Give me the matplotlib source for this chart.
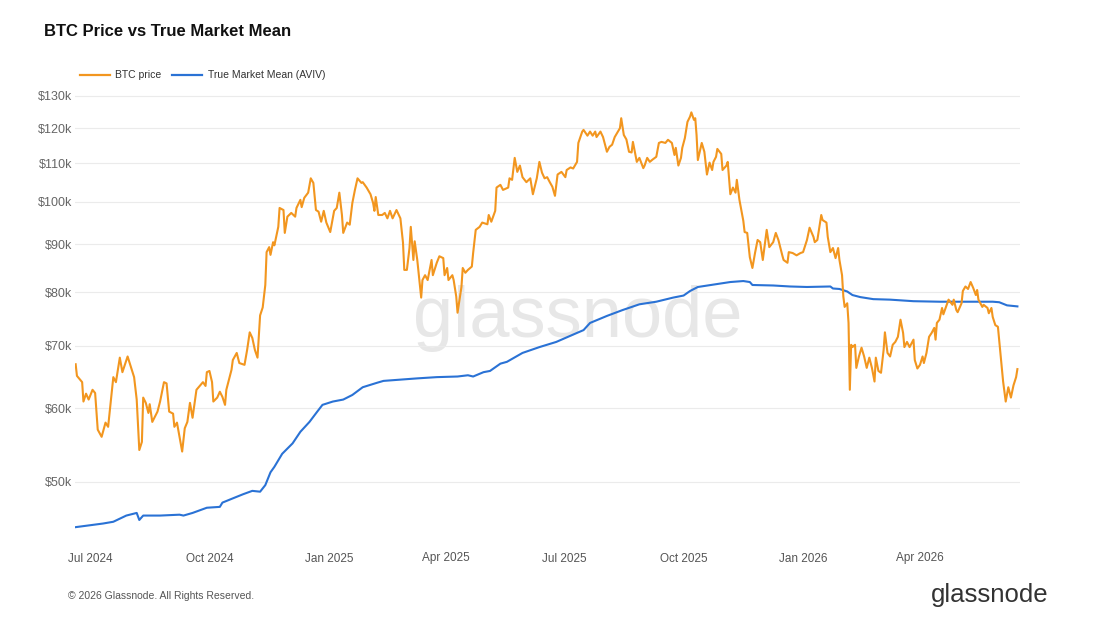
import matplotlib
matplotlib.use('Agg')
import matplotlib.pyplot as plt
from matplotlib.lines import Line2D
from matplotlib.ticker import FixedLocator, FuncFormatter, NullLocator
from matplotlib import font_manager
import pandas as pd

avail = {f.name for f in font_manager.fontManager.ttflist}
base_font = 'Liberation Sans' if 'Liberation Sans' in avail else 'DejaVu Sans'
plt.rcParams['font.family'] = [base_font, 'DejaVu Sans']

# ---------------- data ----------------
btc_dates = [
    '2024-06-20', '2024-06-21', '2024-06-25', '2024-06-26', '2024-06-28', '2024-06-30',
    '2024-07-03', '2024-07-05', '2024-07-07', '2024-07-10', '2024-07-13', '2024-07-15',
    '2024-07-19', '2024-07-21', '2024-07-24', '2024-07-26', '2024-07-30', '2024-08-04',
    '2024-08-06', '2024-08-08', '2024-08-10', '2024-08-11', '2024-08-13', '2024-08-15',
    '2024-08-16', '2024-08-18', '2024-08-22', '2024-08-24', '2024-08-27', '2024-08-29',
    '2024-08-31', '2024-09-03', '2024-09-04', '2024-09-06', '2024-09-10', '2024-09-12',
    '2024-09-14', '2024-09-16', '2024-09-18', '2024-09-21', '2024-09-26', '2024-09-28',
    '2024-09-29', '2024-10-01', '2024-10-03', '2024-10-04', '2024-10-07', '2024-10-09',
    '2024-10-11', '2024-10-13', '2024-10-14', '2024-10-18', '2024-10-19', '2024-10-22',
    '2024-10-24', '2024-10-28', '2024-10-30', '2024-11-01', '2024-11-03', '2024-11-05',
    '2024-11-07', '2024-11-09', '2024-11-11', '2024-11-13', '2024-11-14', '2024-11-16',
    '2024-11-17', '2024-11-19', '2024-11-20', '2024-11-23', '2024-11-24', '2024-11-27',
    '2024-11-28', '2024-11-30', '2024-12-03', '2024-12-06', '2024-12-07', '2024-12-10',
    '2024-12-11', '2024-12-13', '2024-12-16', '2024-12-18', '2024-12-20', '2024-12-22',
    '2024-12-24', '2024-12-26', '2024-12-28', '2024-12-30', '2025-01-02', '2025-01-05',
    '2025-01-07', '2025-01-09', '2025-01-11', '2025-01-12', '2025-01-15', '2025-01-17',
    '2025-01-19', '2025-01-21', '2025-01-23', '2025-01-26', '2025-01-27', '2025-01-30',
    '2025-02-02', '2025-02-04', '2025-02-05', '2025-02-06', '2025-02-08', '2025-02-11',
    '2025-02-13', '2025-02-15', '2025-02-17', '2025-02-19', '2025-02-22', '2025-02-25',
    '2025-02-27', '2025-02-28', '2025-03-02', '2025-03-04', '2025-03-05', '2025-03-07',
    '2025-03-08', '2025-03-10', '2025-03-11', '2025-03-13', '2025-03-14', '2025-03-16',
    '2025-03-18', '2025-03-21', '2025-03-22', '2025-03-25', '2025-03-27', '2025-03-30',
    '2025-03-31', '2025-04-02', '2025-04-03', '2025-04-06', '2025-04-07', '2025-04-09',
    '2025-04-10', '2025-04-13', '2025-04-14', '2025-04-16', '2025-04-18', '2025-04-21',
    '2025-04-22', '2025-04-24', '2025-04-27', '2025-04-29', '2025-05-03', '2025-05-04',
    '2025-05-06', '2025-05-09', '2025-05-10', '2025-05-13', '2025-05-15', '2025-05-19',
    '2025-05-20', '2025-05-22', '2025-05-24', '2025-05-26', '2025-05-28', '2025-05-30',
    '2025-06-02', '2025-06-05', '2025-06-07', '2025-06-10', '2025-06-12', '2025-06-14',
    '2025-06-16', '2025-06-18', '2025-06-20', '2025-06-22', '2025-06-24', '2025-06-26',
    '2025-06-29', '2025-07-02', '2025-07-03', '2025-07-06', '2025-07-08', '2025-07-11',
    '2025-07-12', '2025-07-15', '2025-07-16', '2025-07-19', '2025-07-21', '2025-07-23',
    '2025-07-25', '2025-07-26', '2025-07-29', '2025-07-31', '2025-08-03', '2025-08-05',
    '2025-08-07', '2025-08-09', '2025-08-11', '2025-08-13', '2025-08-14', '2025-08-16',
    '2025-08-18', '2025-08-20', '2025-08-22', '2025-08-23', '2025-08-26', '2025-08-28',
    '2025-08-31', '2025-09-01', '2025-09-03', '2025-09-05', '2025-09-07', '2025-09-10',
    '2025-09-12', '2025-09-14', '2025-09-17', '2025-09-19', '2025-09-22', '2025-09-24',
    '2025-09-25', '2025-09-27', '2025-09-29', '2025-09-30', '2025-10-02', '2025-10-04',
    '2025-10-06', '2025-10-07', '2025-10-09', '2025-10-10', '2025-10-11', '2025-10-12',
    '2025-10-15', '2025-10-17', '2025-10-19', '2025-10-21', '2025-10-23', '2025-10-24',
    '2025-10-26', '2025-10-27', '2025-10-30', '2025-10-31', '2025-11-03', '2025-11-04',
    '2025-11-06', '2025-11-08', '2025-11-10', '2025-11-11', '2025-11-13', '2025-11-16',
    '2025-11-17', '2025-11-19', '2025-11-21', '2025-11-23', '2025-11-25', '2025-11-27',
    '2025-11-29', '2025-12-01', '2025-12-04', '2025-12-06', '2025-12-09', '2025-12-11',
    '2025-12-13', '2025-12-16', '2025-12-17', '2025-12-20', '2025-12-21', '2025-12-24',
    '2025-12-27', '2025-12-30', '2026-01-01', '2026-01-04', '2026-01-06', '2026-01-09',
    '2026-01-10', '2026-01-12', '2026-01-15', '2026-01-16', '2026-01-19', '2026-01-20',
    '2026-01-22', '2026-01-24', '2026-01-26', '2026-01-28', '2026-01-29', '2026-01-31',
    '2026-02-01', '2026-02-02', '2026-02-04', '2026-02-05', '2026-02-06', '2026-02-07',
    '2026-02-08', '2026-02-10', '2026-02-11', '2026-02-13', '2026-02-15', '2026-02-17',
    '2026-02-19', '2026-02-21', '2026-02-23', '2026-02-25', '2026-02-26', '2026-02-28',
    '2026-03-02', '2026-03-04', '2026-03-05', '2026-03-07', '2026-03-09', '2026-03-11',
    '2026-03-13', '2026-03-15', '2026-03-17', '2026-03-19', '2026-03-20', '2026-03-22',
    '2026-03-24', '2026-03-27', '2026-03-28', '2026-03-30', '2026-04-01', '2026-04-03',
    '2026-04-04', '2026-04-06', '2026-04-08', '2026-04-10', '2026-04-12', '2026-04-13',
    '2026-04-14', '2026-04-16', '2026-04-18', '2026-04-19', '2026-04-22', '2026-04-23',
    '2026-04-26', '2026-04-27', '2026-04-29', '2026-04-30', '2026-05-03', '2026-05-04',
    '2026-05-06', '2026-05-08', '2026-05-10', '2026-05-12', '2026-05-14', '2026-05-15',
    '2026-05-16', '2026-05-19', '2026-05-20', '2026-05-23', '2026-05-24', '2026-05-26',
    '2026-05-27', '2026-05-29', '2026-05-31', '2026-06-01', '2026-06-03', '2026-06-04',
    '2026-06-06', '2026-06-08', '2026-06-10', '2026-06-12', '2026-06-14', '2026-06-15',
]
btc_price_k = [
    66.9, 65.0, 64.0, 61.0, 62.2, 61.3,
    62.8, 62.3, 56.9, 55.9, 57.9, 57.3,
    64.8, 64.0, 68.0, 65.6, 68.2, 64.8,
    61.3, 54.1, 55.2, 61.6, 60.8, 59.3,
    60.6, 58.0, 59.5, 61.0, 64.0, 63.8,
    59.5, 59.2, 57.3, 57.9, 53.9, 57.1,
    58.0, 60.8, 58.6, 62.8, 64.0, 63.4,
    65.6, 65.8, 64.0, 61.0, 61.6, 62.5,
    61.7, 60.5, 62.8, 66.0, 67.6, 68.8,
    67.1, 66.8, 69.3, 72.4, 71.4, 69.3,
    68.0, 75.5, 77.0, 81.4, 88.3, 89.4,
    87.7, 90.5, 89.8, 94.0, 98.5, 98.0,
    92.6, 96.4, 97.3, 96.4, 98.5, 100.5,
    98.7, 101.0, 102.3, 106.0, 104.8, 98.0,
    97.6, 95.2, 97.8, 95.0, 92.8, 97.8,
    98.5, 102.3, 96.8, 92.6, 95.0, 94.5,
    99.7, 103.0, 106.0, 104.8, 105.0, 103.6,
    101.9, 99.7, 97.8, 101.2, 96.8, 96.8,
    97.3, 96.0, 97.8, 96.0, 98.0, 96.0,
    90.4, 84.5, 84.5, 89.2, 94.0, 86.6,
    90.7, 86.6, 83.9, 78.9, 82.4, 83.4,
    82.4, 86.6, 83.4, 86.0, 87.4, 87.0,
    83.4, 84.9, 82.4, 83.4, 82.4, 79.1,
    76.0, 81.0, 84.9, 83.9, 84.5, 85.2,
    88.1, 93.3, 94.0, 95.0, 94.6, 96.8,
    95.2, 97.8, 103.6, 104.3, 103.0, 103.6,
    106.0, 105.6, 111.5, 107.7, 109.4, 106.3,
    105.0, 106.0, 101.9, 106.0, 110.4, 107.5,
    106.0, 106.3, 105.0, 103.8, 101.5, 107.0,
    107.7, 106.3, 108.2, 108.9, 108.6, 110.4,
    115.7, 119.0, 119.5, 117.8, 119.0, 117.8,
    119.0, 117.4, 119.0, 117.4, 113.2, 114.6,
    115.2, 117.4, 118.7, 120.0, 123.0, 118.0,
    116.7, 113.2, 113.0, 116.0, 110.4, 111.5,
    108.7, 109.4, 111.5, 110.4, 111.0, 111.8,
    115.7, 116.0, 115.7, 116.6, 115.7, 112.3,
    114.3, 109.4, 111.5, 114.3, 117.1, 121.9,
    123.5, 124.8, 122.5, 123.0, 118.0, 110.9,
    115.7, 113.2, 107.0, 110.2, 108.2, 110.4,
    111.8, 114.0, 112.6, 108.2, 109.4, 110.4,
    101.9, 103.6, 102.3, 105.6, 100.5, 95.4,
    92.8, 92.6, 87.2, 84.9, 88.1, 91.0,
    90.5, 86.6, 93.3, 89.4, 90.5, 92.6,
    91.0, 87.6, 86.6, 86.0, 88.3, 88.1,
    87.6, 88.1, 88.3, 91.0, 93.8, 91.7,
    90.5, 91.0, 96.8, 95.6, 95.0, 91.7,
    88.3, 89.2, 87.0, 89.2, 86.6, 83.4,
    79.1, 77.1, 77.8, 74.1, 62.8, 70.2,
    69.8, 70.2, 66.3, 68.2, 69.7, 68.2,
    66.3, 68.0, 66.3, 64.1, 68.0, 65.8,
    65.5, 69.3, 72.4, 68.8, 68.2, 70.2,
    70.7, 71.6, 74.7, 72.3, 69.8, 70.7,
    69.8, 71.1, 67.6, 66.2, 66.8, 68.2,
    67.1, 68.8, 71.6, 72.3, 73.2, 71.1,
    74.1, 74.7, 76.9, 75.7, 77.8, 78.5,
    77.5, 78.5, 76.5, 76.1, 77.8, 80.2,
    81.1, 80.6, 82.0, 80.8, 79.4, 80.4,
    78.5, 77.1, 77.5, 76.9, 75.9, 76.9,
    75.2, 73.7, 73.4, 70.9, 66.3, 64.1,
    61.0, 63.2, 61.6, 63.5, 64.8, 66.1,
]

tmm_dates = [
    '2024-06-20', '2024-07-11', '2024-07-19', '2024-07-29', '2024-08-06', '2024-08-08',
    '2024-08-11', '2024-08-24', '2024-09-08', '2024-09-11', '2024-09-18', '2024-09-29',
    '2024-10-09', '2024-10-11', '2024-10-19', '2024-10-27', '2024-11-03', '2024-11-09',
    '2024-11-13', '2024-11-17', '2024-11-20', '2024-11-26', '2024-12-04', '2024-12-10',
    '2024-12-17', '2024-12-23', '2024-12-27', '2025-01-04', '2025-01-12', '2025-01-19',
    '2025-01-27', '2025-02-07', '2025-02-12', '2025-02-25', '2025-03-10', '2025-03-25',
    '2025-04-10', '2025-04-18', '2025-04-22', '2025-04-30', '2025-05-05', '2025-05-13',
    '2025-05-18', '2025-05-30', '2025-06-12', '2025-06-25', '2025-07-08', '2025-07-16',
    '2025-07-21', '2025-08-03', '2025-08-15', '2025-08-28', '2025-09-10', '2025-09-23',
    '2025-10-01', '2025-10-06', '2025-10-12', '2025-10-27', '2025-11-06', '2025-11-16',
    '2025-11-21', '2025-11-23', '2025-12-09', '2025-12-22', '2026-01-04', '2026-01-22',
    '2026-01-24', '2026-01-29', '2026-02-04', '2026-02-08', '2026-02-14', '2026-02-24',
    '2026-03-09', '2026-03-27', '2026-04-16', '2026-05-12', '2026-05-27', '2026-06-01',
    '2026-06-07', '2026-06-15',
]
tmm_k = [
    44.7, 45.1, 45.3, 46.0, 46.3, 45.5,
    46.0, 46.0, 46.1, 46.0, 46.3, 46.9,
    47.0, 47.5, 48.0, 48.5, 48.9, 48.8,
    49.6, 51.2, 51.9, 53.6, 55.0, 56.6,
    58.0, 59.5, 60.5, 61.0, 61.3, 62.0,
    63.2, 63.9, 64.2, 64.4, 64.6, 64.8,
    64.9, 65.1, 64.9, 65.6, 65.8, 67.0,
    67.3, 68.8, 69.8, 70.7, 72.0, 72.8,
    74.1, 75.4, 76.5, 77.6, 78.1, 78.9,
    79.3, 80.2, 81.0, 81.6, 82.0, 82.2,
    82.0, 81.4, 81.3, 81.1, 81.0, 81.1,
    80.7, 80.6, 80.1, 79.4, 79.0, 78.6,
    78.5, 78.2, 78.1, 78.1, 78.1, 78.0,
    77.4, 77.2,
]

y_ticks_k = [50, 60, 70, 80, 90, 100, 110, 120, 130]
x_tick_dates = ['2024-07-01', '2024-10-01', '2025-01-01', '2025-04-01',
                '2025-07-01', '2025-10-01', '2026-01-01', '2026-04-01']
x_tick_labels = ['Jul 2024', 'Oct 2024', 'Jan 2025', 'Apr 2025',
                 'Jul 2025', 'Oct 2025', 'Jan 2026', 'Apr 2026']
series_names = ['BTC price', 'True Market Mean (AVIV)']

# ---------------- style ----------------
ORANGE = '#F2961F'
BLUE = '#2A72D5'
W, H = 1100, 620

def fx(px):
    return px / W

def fy(py):
    return 1 - py / H

fig = plt.figure(figsize=(11, 6.2), dpi=100)
fig.patch.set_facecolor('white')
ax = fig.add_axes([fx(75), fy(540), fx(1020) - fx(75), fy(90) - fy(540)])

ax.set_yscale('log')
ax.set_ylim(43.3, 131.9)
ax.set_xlim(pd.Timestamp('2024-06-19 12:00'), pd.Timestamp('2026-06-17'))

ax.text(0.532, 0.493, 'glassnode', transform=ax.transAxes, fontsize=52,
        color='#e7e7e7', ha='center', va='center', zorder=0)

ax.plot(pd.to_datetime(tmm_dates), tmm_k, color=BLUE, lw=1.5, zorder=3,
        solid_joinstyle='round')
ax.plot(pd.to_datetime(btc_dates), btc_price_k, color=ORANGE, lw=1.5, zorder=4,
        solid_joinstyle='round')

ax.yaxis.set_major_locator(FixedLocator(y_ticks_k))
ax.yaxis.set_minor_locator(NullLocator())
ax.yaxis.set_major_formatter(FuncFormatter(lambda v, p: f'${int(round(v))}k'))
ax.set_xticks(pd.to_datetime(x_tick_dates))
ax.set_xticklabels(x_tick_labels)
ax.xaxis.set_minor_locator(NullLocator())

ax.tick_params(axis='y', length=0, pad=2, labelsize=9, labelcolor='#666666')
ax.tick_params(axis='x', length=0, pad=9, labelsize=8.5, labelcolor='#555555')
ax.grid(axis='y', color='#ebebeb', lw=0.8, zorder=1)
ax.grid(axis='x', visible=False)
for s in ax.spines.values():
    s.set_visible(False)
ax.set_axisbelow(True)

# title
fig.text(fx(44), fy(31), 'BTC Price vs True Market Mean', fontsize=12,
         fontweight='bold', color='#111111', va='center', ha='left')

# legend (manual)
ly = fy(75)
fig.add_artist(Line2D([fx(80), fx(110)], [ly, ly], color=ORANGE, lw=1.6,
                      transform=fig.transFigure))
fig.text(fx(115), ly, series_names[0], fontsize=7.5, color='#333333', va='center')
fig.add_artist(Line2D([fx(172), fx(202)], [ly, ly], color=BLUE, lw=1.6,
                      transform=fig.transFigure))
fig.text(fx(208), ly, series_names[1], fontsize=7.5, color='#333333', va='center')

# footer
fig.text(fx(68), fy(596), '\u00a9 2026 Glassnode. All Rights Reserved.', fontsize=7.5,
         color='#555555', va='center', ha='left')
fig.text(fx(1049), fy(595), 'glassnode', fontsize=18.5, color='#333333',
         va='center', ha='right')

fig.savefig('out.png', dpi=100, facecolor='white')
